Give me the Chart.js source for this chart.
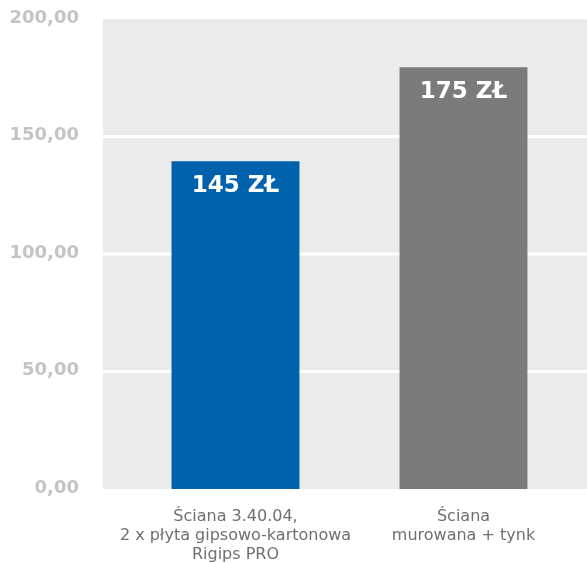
<!DOCTYPE html>
<html>
<head>
<meta charset="utf-8">
<script src="https://cdn.jsdelivr.net/npm/chart.js"></script>
<style>
  body { margin: 0; background: #fff; }
  #wrap { width: 587px; height: 563px; }
</style>
</head>
<body>
<div id="wrap"><canvas id="cost-chart" width="587" height="563"></canvas></div>
<script>
// wall cost comparison
var categories = [
  ["Ściana 3.40.04,", "2 x płyta gipsowo-kartonowa", "Rigips PRO"],
  ["Ściana", "murowana + tynk"]
];
var costs = [139.5, 179.5];
var barTexts = ["145 ZŁ", "175 ZŁ"];
var barColors = ["#0062ad", "#7b7b7b"];
var yTicks = [0, 50, 100, 150, 200];

// gray plot panel + white grid lines, behind the bars
var panelPlugin = {
  id: 'panel',
  beforeDatasetsDraw: function (chart) {
    var ctx = chart.ctx, y = chart.scales.y, area = chart.chartArea;
    var left = 103, right = chart.width;
    ctx.save();
    ctx.fillStyle = '#ebebeb';
    ctx.fillRect(left, area.top, right - left, area.bottom - area.top);
    ctx.strokeStyle = '#ffffff';
    ctx.lineWidth = 3;
    yTicks.slice(1, -1).forEach(function (v) {
      var py = y.getPixelForValue(v);
      ctx.beginPath();
      ctx.moveTo(left, py);
      ctx.lineTo(right, py);
      ctx.stroke();
    });
    ctx.restore();
  }
};

var barLabelPlugin = {
  id: 'barLabels',
  afterDatasetsDraw: function (chart) {
    var ctx = chart.ctx;
    ctx.save();
    ctx.fillStyle = '#ffffff';
    ctx.font = 'bold 23px "DejaVu Sans"';
    ctx.textAlign = 'center';
    ctx.textBaseline = 'middle';
    chart.getDatasetMeta(0).data.forEach(function (bar, i) {
      ctx.fillText(barTexts[i], bar.x, bar.y + 25);
    });
    ctx.restore();
  }
};

new Chart(document.getElementById('cost-chart'), {
  type: 'bar',
  data: {
    labels: categories,
    datasets: [{
      data: costs,
      backgroundColor: barColors,
      borderWidth: 0,
      barPercentage: 1,
      categoryPercentage: 0.561
    }]
  },
  options: {
    responsive: false,
    animation: false,
    layout: { padding: { top: 19, right: 9.5, left: 0, bottom: 0 } },
    plugins: {
      legend: { display: false },
      tooltip: { enabled: false }
    },
    scales: {
      x: {
        grid: { display: false, drawTicks: false },
        border: { display: false },
        afterFit: function (s) { s.height = 74; },
        ticks: {
          padding: 19,
          color: '#6f6f6f',
          font: { family: '"DejaVu Sans"', size: 16, lineHeight: 1.16 },
          maxRotation: 0,
          autoSkip: false
        }
      },
      y: {
        min: 0,
        max: 200,
        afterFit: function (s) {
          s.width = 121.5;
          s.paddingTop = 10;
          s.paddingBottom = 10;
        },
        afterBuildTicks: function (s) {
          s.ticks = yTicks.map(function (v) { return { value: v }; });
        },
        grid: { display: false, drawTicks: false },
        border: { display: false },
        ticks: {
          padding: 42.5,
          labelOffset: -1,
          color: '#c4c4c4',
          font: { family: '"DejaVu Sans"', size: 18, weight: 'bold' },
          callback: function (v) { return v.toFixed(2).replace('.', ','); }
        }
      }
    }
  },
  plugins: [panelPlugin, barLabelPlugin]
});
</script>
</body>
</html>
